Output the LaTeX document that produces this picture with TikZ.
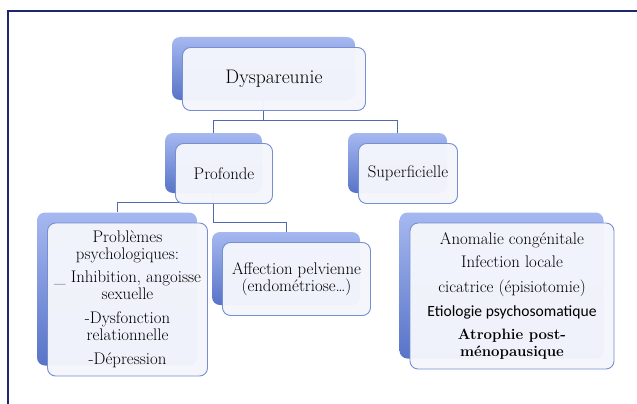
\documentclass[tikz,border=0pt]{standalone}
\usepackage{fontspec}
\newfontfamily\carlito{Carlito}
\usetikzlibrary{backgrounds}

\definecolor{cadrebleu}{RGB}{30,38,110}
\definecolor{lienbleu}{RGB}{80,105,175}
\definecolor{hautbleu}{RGB}{166,184,240}
\definecolor{basbleu}{RGB}{88,116,200}
\definecolor{bordbleu}{RGB}{118,143,210}
\definecolor{fondclair}{RGB}{244,246,252}

\newcommand{\petitgras}[1]{{\fontsize{15}{17}\selectfont\bfseries #1}}

\begin{document}
\begin{tikzpicture}[x=1pt, y=-1pt]
\tikzset{fond/.style={rounded corners=8pt, top color=hautbleu, bottom color=basbleu,
                      inner sep=0pt},
         boite/.style={rounded corners=8pt, draw=bordbleu, line width=.9pt, fill=fondclair,
                      fill opacity=.97, text opacity=1, align=center, inner sep=0pt,
                      font=\fontsize{16.8}{16.8}\selectfont},
         lien/.style={draw=lienbleu, line width=.9pt}}
\useasboundingbox (0,0) rectangle (637,404);
\clip (0,0) rectangle (637,404);
\draw[cadrebleu, line width=2pt] (8,11) rectangle (660,420);

% back boxes
\node[fond, minimum width=183, minimum height=63] (dysB) at (263.5,68.5) {};
\node[fond, minimum width=97, minimum height=60] (profB) at (213.5,163) {};
\node[fond, minimum width=99, minimum height=60] (supB) at (397.5,163) {};
\node[fond, minimum width=160, minimum height=153] (psyB) at (117,289) {};
\node[fond, minimum width=148, minimum height=73] (pelB) at (286,268.5) {};
\node[fond, minimum width=204, minimum height=146] (anoB) at (501.5,285.5) {};

% front boxes
\node[boite, minimum width=183, minimum height=63, font=\fontsize{19.6}{21}\selectfont]
   (dys) at ([shift={(10.5,10.5)}]dysB) {Dyspareunie};
\node[boite, minimum width=97, minimum height=60] (prof) at ([shift={(10.5,10.5)}]profB) {Profonde};
\node[boite, minimum width=99, minimum height=60] (sup) at ([shift={(10.5,10.5)}]supB) {Superficielle};
\node[boite, minimum width=160, minimum height=153] (psy) at ([shift={(10.5,10.5)}]psyB)
   {Problèmes\\psychologiques:\\[6.5pt]\_ Inhibition, angoisse\\sexuelle\\[7.5pt]-Dysfonction\\relationnelle\\[7.5pt]-Dépression};
\node[boite, minimum width=148, minimum height=73] (pel) at ([shift={(10.5,10.5)}]pelB)
   {Affection pelvienne\\(endométriose\textellipsis)};
\node[boite, minimum width=204, minimum height=146] (ano) at ([shift={(10.5,10.5)}]anoB)
   {Anomalie congénitale\\[6.5pt]Infection locale\\[7.5pt]cicatrice (épisiotomie)\\[7.5pt]{\carlito\fontsize{15.6}{16.8}\selectfont Etiologie psychosomatique}\\[6.5pt]\petitgras{Atrophie post-}\\\petitgras{ménopausique}};

\begin{scope}[on background layer]
\draw[lien] (dysB.south) -- ++(0,20) -| (profB.north);
\draw[lien] (dysB.south) -- ++(0,20) -| (supB.north);
\draw[lien] (profB.south) -- ++(0,9) -| (psyB.north);
\draw[lien] (profB.south) -- ++(0,29) -| (pelB.north);
\end{scope}
\end{tikzpicture}
\end{document}
